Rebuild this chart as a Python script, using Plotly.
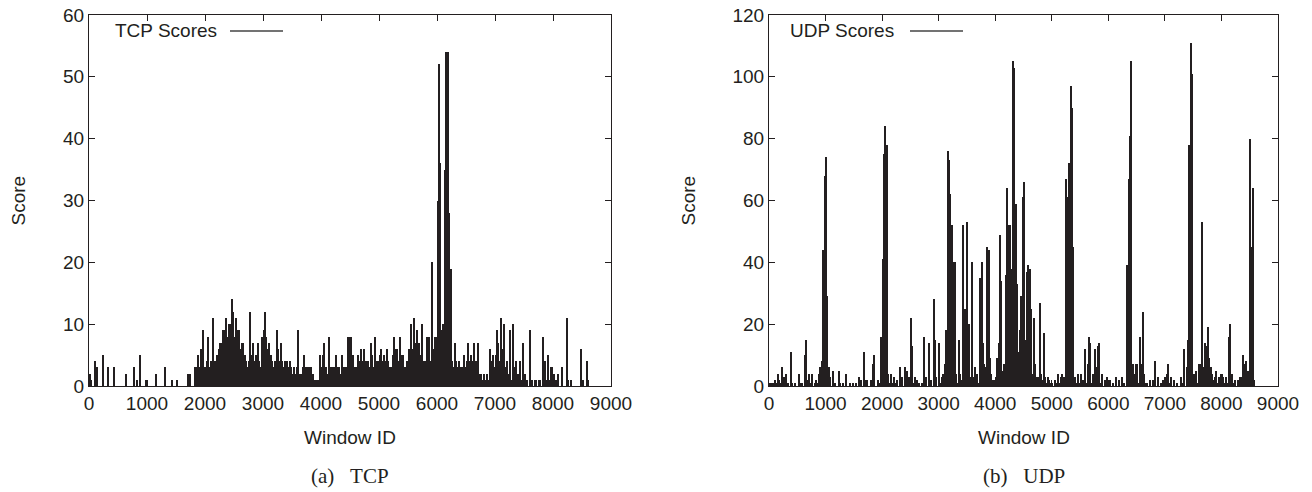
import numpy as np
import plotly.graph_objects as go

# ---------------- data (score per 25-window bin) ----------------
WINDOW_STEP = 25

TCP_SCORES = [
    2, 1, 0, 0, 4, 3, 0, 0,
    0, 5, 0, 0, 0, 3, 0, 0,
    0, 3, 0, 0, 0, 0, 0, 0,
    0, 2, 0, 0, 0, 0, 0, 3,
    0, 1, 0, 5, 0, 0, 0, 1,
    0, 0, 0, 0, 0, 0, 2, 0,
    0, 0, 0, 0, 3, 0, 0, 0,
    0, 1, 0, 0, 1, 0, 0, 0,
    0, 0, 0, 0, 2, 2, 0, 0,
    0, 3, 3, 5, 3, 6, 9, 3,
    3, 4, 8, 3, 4, 11, 4, 4,
    5, 6, 7, 7, 9, 9, 11, 8,
    10, 10, 14, 12, 8, 11, 9, 9,
    6, 7, 7, 5, 4, 3, 4, 12,
    5, 7, 4, 5, 7, 4, 3, 8,
    9, 12, 8, 6, 7, 5, 4, 3,
    4, 9, 6, 4, 7, 4, 3, 4,
    4, 3, 4, 3, 2, 3, 2, 3,
    9, 2, 2, 3, 5, 3, 3, 3,
    3, 3, 2, 1, 1, 1, 1, 5,
    3, 5, 7, 3, 2, 8, 3, 3,
    3, 3, 5, 3, 3, 2, 5, 3,
    3, 3, 8, 8, 8, 5, 5, 3,
    3, 5, 4, 6, 4, 6, 4, 4,
    4, 3, 7, 5, 3, 8, 4, 4,
    5, 6, 4, 5, 4, 6, 4, 3,
    3, 5, 8, 6, 6, 4, 8, 5,
    5, 3, 3, 4, 6, 4, 10, 6,
    11, 7, 9, 7, 5, 10, 3, 4,
    4, 8, 8, 4, 20, 6, 8, 8,
    30, 52, 36, 9, 10, 35, 54, 54,
    28, 19, 4, 3, 7, 4, 3, 4,
    3, 3, 5, 3, 4, 7, 4, 5,
    4, 7, 4, 4, 7, 2, 2, 1,
    2, 1, 2, 1, 6, 4, 5, 3,
    5, 9, 7, 4, 11, 6, 10, 3,
    4, 2, 9, 1, 10, 3, 4, 2,
    2, 4, 1, 7, 2, 1, 1, 0,
    9, 1, 0, 1, 1, 0, 1, 1,
    0, 8, 4, 1, 5, 1, 3, 3,
    2, 0, 1, 2, 0, 0, 3, 0,
    0, 11, 1, 0, 1, 0, 0, 0,
    0, 0, 0, 6, 1, 0, 0, 4,
    1,
]

UDP_SCORES = [
    1, 0, 1, 1, 2, 1, 4, 2,
    1, 6, 3, 1, 4, 1, 0, 11,
    1, 0, 1, 0, 0, 4, 1, 1, 0,
    10, 15, 2, 4, 1, 4, 0, 1,
    2, 1, 4, 6, 8, 44, 68, 74,
    29, 6, 3, 0, 5, 1, 0, 0,
    5, 1, 0, 1, 0, 4, 0, 0,
    1, 0, 1, 0, 1, 0, 3, 0,
    2, 0, 11, 2, 2, 0, 0, 2,
    7, 10, 0, 0, 2, 1, 16, 41,
    75, 84, 78, 4, 1, 4, 1, 3,
    1, 2, 0, 6, 1, 3, 0, 6,
    5, 1, 3, 22, 13, 1, 3, 2,
    0, 1, 0, 1, 16, 0, 3, 0, 14,
    2, 0, 28, 15, 3, 0, 14, 1,
    3, 4, 7, 18, 76, 73, 62, 52,
    40, 40, 4, 1, 15, 4, 2, 52,
    25, 3, 53, 20, 3, 40, 3, 6,
    2, 4, 1, 35, 40, 14, 7, 6,
    45, 44, 9, 4, 2, 2, 3, 9,
    14, 49, 34, 5, 7, 36, 64, 52,
    52, 38, 105, 103, 59, 33, 11, 18,
    29, 61, 66, 15, 37, 39, 38, 25,
    4, 22, 7, 3, 3, 27, 4, 2,
    17, 3, 1, 3, 2, 1, 1, 0,
    2, 1, 4, 1, 3, 4, 3, 1,
    67, 61, 72, 97, 90, 45, 3, 1,
    4, 1, 4, 1, 2, 12, 1, 7,
    16, 14, 1, 4, 12, 6, 13, 14,
    1, 4, 0, 2, 0, 3, 0, 2, 0,
    1, 0, 3, 0, 2, 0, 3, 0,
    1, 0, 39, 67, 81, 105, 7, 4,
    7, 7, 1, 16, 7, 24, 4, 1,
    1, 0, 2, 0, 2, 0, 8, 0,
    3, 0, 1, 2, 0, 3, 4, 7,
    1, 3, 0, 2, 0, 1, 0, 0,
    3, 1, 12, 0, 6, 15, 78, 111,
    101, 4, 1, 5, 1, 7, 7, 53,
    6, 14, 13, 19, 9, 6, 4, 2,
    3, 5, 1, 3, 4, 4, 3, 1,
    3, 1, 16, 20, 4, 1, 2, 0,
    2, 0, 3, 3, 10, 7, 8, 5,
    5, 80, 45, 64, 2,
]

X_TICKS = [0, 1000, 2000, 3000, 4000, 5000, 6000, 7000, 8000, 9000]
TCP_Y_TICKS = [0, 10, 20, 30, 40, 50, 60]
UDP_Y_TICKS = [0, 20, 40, 60, 80, 100, 120]

TCP_LABEL = "TCP Scores"
UDP_LABEL = "UDP Scores"
X_TITLE = "Window ID"
Y_TITLE = "Score"
CAPTIONS = ["(a)\u00a0\u00a0\u00a0TCP", "(b)\u00a0\u00a0\u00a0UDP"]

tcp_x = np.arange(len(TCP_SCORES)) * WINDOW_STEP
udp_x = np.arange(len(UDP_SCORES)) * WINDOW_STEP

# ---------------- style / layout ----------------
W, H = 1312, 492
BAR = "#231f20"
INK = "#231f20"
SANS = "Liberation Sans, Arial, Helvetica, sans-serif"
SERIF = "Liberation Serif, Times New Roman, serif"
FS = 19

def px_x(p):
    return p / W

def px_y(p):
    return 1 - p / H

L_AX = (89, 611)
R_AX = (769, 1278)
TOP, BOT = 15, 386

fig = go.Figure()
fig.add_trace(go.Bar(x=tcp_x, y=TCP_SCORES, width=WINDOW_STEP, offset=0,
                     marker=dict(color=BAR, line=dict(width=0)),
                     xaxis="x", yaxis="y", showlegend=False, name=TCP_LABEL))
fig.add_trace(go.Bar(x=udp_x, y=UDP_SCORES, width=WINDOW_STEP, offset=0,
                     marker=dict(color=BAR, line=dict(width=0)),
                     xaxis="x2", yaxis="y2", showlegend=False, name=UDP_LABEL))

axis_common = dict(showline=True, linecolor=INK, linewidth=1, mirror="ticks",
                   ticks="inside", ticklen=6, tickwidth=1, tickcolor=INK,
                   showgrid=False, zeroline=False, automargin=False,
                   tickfont=dict(family=SANS, size=FS, color=INK))

fig.update_layout(
    width=W, height=H, autosize=False,
    margin=dict(l=0, r=0, t=0, b=0, pad=0, autoexpand=False),
    paper_bgcolor="white", plot_bgcolor="white",
    bargap=0, barmode="overlay",
    showlegend=False,
    xaxis=dict(domain=[px_x(L_AX[0]), px_x(L_AX[1])], range=[0, 9000],
               tickvals=X_TICKS, anchor="y", **axis_common),
    yaxis=dict(domain=[px_y(BOT), px_y(TOP)], range=[0, 60],
               tickvals=TCP_Y_TICKS, anchor="x", **axis_common),
    xaxis2=dict(domain=[px_x(R_AX[0]), px_x(R_AX[1])], range=[0, 9000],
                tickvals=X_TICKS, anchor="y2", **axis_common),
    yaxis2=dict(domain=[px_y(BOT), px_y(TOP)], range=[0, 120],
                tickvals=UDP_Y_TICKS, anchor="x2", **axis_common),
)

ann = []
shapes = []
for (x0, x1), label, cap, ylab_x, leg_x, line_x in [
    (L_AX, TCP_LABEL, CAPTIONS[0], 18, 115, (230, 283)),
    (R_AX, UDP_LABEL, CAPTIONS[1], 688, 790, (910, 963)),
]:
    cx = (x0 + x1) / 2
    ann.append(dict(x=px_x(cx), y=px_y(437), xref="paper", yref="paper",
                    text=X_TITLE, showarrow=False, xanchor="center", yanchor="middle",
                    font=dict(family=SANS, size=FS, color=INK)))
    ann.append(dict(x=px_x(ylab_x), y=px_y((TOP + BOT) / 2), xref="paper", yref="paper",
                    text=Y_TITLE, showarrow=False, textangle=-90,
                    xanchor="center", yanchor="middle",
                    font=dict(family=SANS, size=FS, color=INK)))
    ann.append(dict(x=px_x(cx), y=px_y(476), xref="paper", yref="paper",
                    text=cap, showarrow=False, xanchor="center", yanchor="middle",
                    font=dict(family=SERIF, size=21, color=INK)))
    ann.append(dict(x=px_x(leg_x), y=px_y(31), xref="paper", yref="paper",
                    text=label, showarrow=False, xanchor="left", yanchor="middle",
                    xshift=-2, font=dict(family=SANS, size=FS, color=INK)))
    shapes.append(dict(type="line", xref="paper", yref="paper",
                       x0=px_x(line_x[0]), x1=px_x(line_x[1]),
                       y0=px_y(31), y1=px_y(31),
                       line=dict(color="#444", width=1.5)))

fig.update_layout(annotations=ann, shapes=shapes)
fig.write_html(
    "out.html",
    config={"displayModeBar": False},
    post_script="document.body.style.margin='0';document.body.style.overflow='hidden';",
)
